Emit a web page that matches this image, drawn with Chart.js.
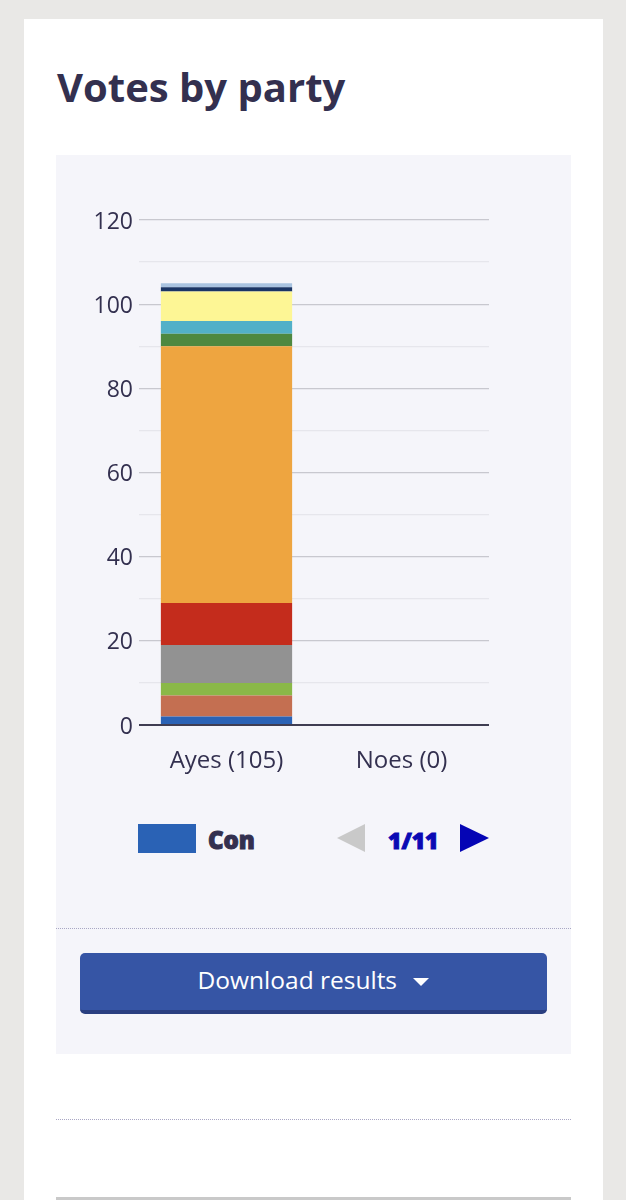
<!DOCTYPE html>
<html>
<head>
<meta charset="utf-8">
<title>Votes by party</title>
<script src="https://cdn.jsdelivr.net/npm/chart.js@4"></script>
<style>
html, body { margin: 0; padding: 0; }
body { width: 626px; height: 1200px; background: #e9e8e6; overflow: hidden; position: relative; font-family: "Open Sans", sans-serif; color: #33304f; }
#card { position: absolute; left: 24px; top: 19px; width: 579px; height: 1181px; background: #fff; }
#title { position: absolute; left: 57px; top: 63px; margin: 0; font-size: 40px; line-height: 48px; font-weight: 700; }
#panel { position: absolute; left: 56px; top: 155px; width: 515px; height: 899px; background: #f5f5fa; }
#chartBox { position: absolute; left: 56px; top: 155px; width: 515px; height: 660px; }
#swatch { position: absolute; left: 138px; top: 824px; width: 58px; height: 29px; background: #2a62b5; }
#party { position: absolute; left: 208px; top: 824px; font: 800 24px/32px "Open Sans", sans-serif; -webkit-text-stroke: 1px #33304f; }
#page { position: absolute; left: 388px; top: 824px; font: 800 23px/32px "Open Sans", sans-serif; color: #0a0ab4; -webkit-text-stroke: 1px #0a0ab4; }
.tri { position: absolute; top: 824px; width: 0; height: 0; border-top: 14.5px solid transparent; border-bottom: 14.5px solid transparent; }
#prev { left: 337px; border-right: 28px solid #c9c9c9; }
#next { left: 460px; border-left: 29px solid #0505b5; }
.dots { position: absolute; left: 56px; width: 515px; border-top: 1px dotted #a9a7c4; }
#btn { position: absolute; left: 80px; top: 953px; width: 467px; height: 57px; border-bottom: 4px solid #2a3f80; border-radius: 5px; background: #3655a5; color: #fff; font-size: 24.5px; line-height: 53px; text-align: center; }
#btn span { display: inline-block; margin-left: 10px; vertical-align: middle; width: 0; height: 0; border-left: 8px solid transparent; border-right: 8px solid transparent; border-top: 8px solid #fff; }
#rule { position: absolute; left: 56px; top: 1197px; width: 515px; height: 3px; background: #c9c9c9; }
</style>
</head>
<body>
<div id="card"></div>
<h1 id="title">Votes by party</h1>
<div id="panel"></div>
<div id="chartBox"><canvas id="votesChart"></canvas></div>
<div id="swatch"></div>
<div id="party"></div>
<div class="tri" id="prev"></div>
<div id="page"></div>
<div class="tri" id="next"></div>
<div class="dots" style="top:928px"></div>
<div id="btn">Download results <span></span></div>
<div class="dots" style="top:1119px"></div>
<div id="rule"></div>
<script>
'use strict';
let categories = ['Ayes (105)', 'Noes (0)'];
// only the first party's name is shown in the picture
let firstParty = 'Con';
let ayesVotes = [2, 5, 3, 9, 10, 61, 3, 3, 7, 1, 1];
let noesVotes = [0, 0, 0, 0, 0, 0, 0, 0, 0, 0, 0];
let partyColours = ['#2a62b5', '#c46f51', '#8ab848', '#929292', '#c42c1c', '#eea540', '#4e8840', '#52b0c8', '#fdf695', '#1a3565', '#a9c3e0'];
let tickLabels = [0, 20, 40, 60, 80, 100, 120];

document.getElementById('party').textContent = firstParty;
document.getElementById('page').textContent = '1/' + ayesVotes.length;

let datasets = [];
for (let i = 0; i < ayesVotes.length; i++) {
    datasets.push({
        data: [ayesVotes[i], noesVotes[i]],
        backgroundColor: partyColours[i],
        borderWidth: 0,
        barPercentage: 0.75,
        categoryPercentage: 1
    });
}

function gridColour(ctx) {
    let v = ctx.tick.value;
    if (v === 0) { return '#3f3d52'; }
    return tickLabels.includes(v) ? '#c8c8cf' : '#e6e6ec';
}

new Chart(document.getElementById('votesChart'), {
    type: 'bar',
    data: { labels: categories, datasets: datasets },
    options: {
        responsive: true,
        maintainAspectRatio: false,
        animation: false,
        layout: { padding: { top: 65, right: 82, bottom: 0, left: 0 } },
        plugins: { legend: { display: false }, title: { display: false } },
        scales: {
            x: {
                stacked: true,
                grid: { display: false },
                border: { display: false },
                ticks: { color: '#33304f', padding: 14, font: { family: 'Open Sans', size: 24 } },
                afterFit: function (scale) { scale.height = 90; }
            },
            y: {
                stacked: true,
                min: 0,
                max: 120,
                grid: {
                    color: gridColour,
                    lineWidth: function (ctx) { return ctx.tick.value === 0 ? 2 : 1.3; },
                    drawTicks: false
                },
                border: { display: false },
                ticks: {
                    stepSize: 10,
                    autoSkip: false,
                    padding: 6,
                    labelOffset: 2,
                    color: '#33304f',
                    font: { family: 'Open Sans', size: 23 },
                    callback: function (value) { return tickLabels.includes(value) ? value : ''; }
                },
                afterFit: function (scale) { scale.width = 83; }
            }
        }
    }
});
</script>
</body>
</html>
